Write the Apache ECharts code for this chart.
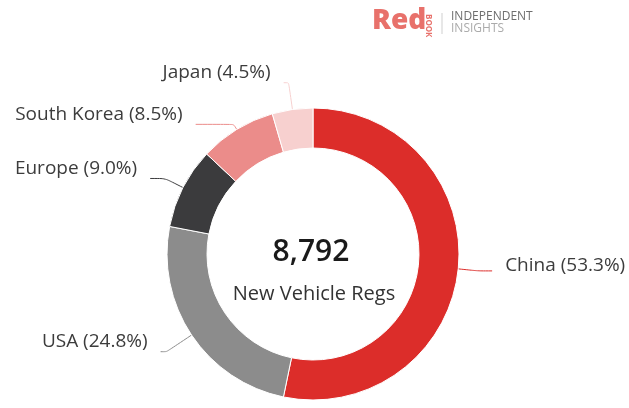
<!DOCTYPE html>
<html>
<head>
<meta charset="utf-8">
<script src="https://cdn.jsdelivr.net/npm/echarts@6/dist/echarts.min.js"></script>
<style>
  html, body { margin: 0; padding: 0; background: #fff; }
  #chart { width: 629px; height: 408px; }
</style>
</head>
<body>
<div id="chart"></div>
<script>
// share of new vehicle registrations, %
const regions = ['China', 'USA', 'Europe', 'South Korea', 'Japan']
const shares = [53.3, 24.8, 9.0, 8.5, 4.5]
const totalRegs = '8,792'
const totalLabel = 'New Vehicle Regs'

const colors = ['#dc2d2a', '#8c8c8c', '#3b3b3d', '#eb8c8a', '#f7d0cf']
// leader line lengths per slice [radial, horizontal], and how far the text sits above the line end
const lineLens = [[20, 14], [30, 6], [20, 15], [6, 38], [27, 5]]
const labelLift = [10, 20, 20, 20, 20]
const font = '"Open Sans", "Noto Sans", sans-serif'

const chart = echarts.init(document.getElementById('chart'))

chart.setOption({
  animation: false,
  color: colors,
  title: [
    {
      text: totalRegs,
      left: 306,
      top: 232,
      textAlign: 'center',
      textStyle: { fontFamily: font, fontSize: 30, fontWeight: 600, color: '#1a1a1a' }
    },
    {
      text: totalLabel,
      left: 309,
      top: 279,
      textAlign: 'center',
      textStyle: { fontFamily: font, fontSize: 20, fontWeight: 'normal', color: '#333' }
    }
  ],
  graphic: [
    {
      type: 'text',
      left: 372,
      top: 7,
      style: { text: 'Red', font: '900 28px ' + font, fill: '#e8716b' }
    },
    {
      type: 'text',
      x: 424,
      y: 14,
      rotation: -Math.PI / 2,
      style: { text: 'BOOK', font: 'bold 8px ' + font, fill: '#e8716b', align: 'left', verticalAlign: 'bottom' }
    },
    {
      type: 'line',
      shape: { x1: 442, y1: 13, x2: 442, y2: 34 },
      style: { stroke: '#cfcfcf', lineWidth: 1 }
    },
    {
      type: 'text',
      left: 451,
      top: 11,
      style: { text: 'INDEPENDENT', font: '12px ' + font, fill: '#6e6e6e' }
    },
    {
      type: 'text',
      left: 451,
      top: 23,
      style: { text: 'INSIGHTS', font: '12px ' + font, fill: '#ababab' }
    }
  ],
  series: [
    {
      type: 'pie',
      center: [313, 254],
      radius: [106, 146],
      startAngle: 90,
      clockwise: true,
      avoidLabelOverlap: false,
      itemStyle: { borderColor: '#fff', borderWidth: 1 },
      label: {
        show: true,
        // empty second line lifts the text above the leader line end
        formatter: p => `{t|${p.name} (${p.value.toFixed(1)}%)}\n{gap|}`,
        distanceToLabelLine: 13,
        rich: {
          t: { fontFamily: font, fontSize: 19, color: '#3c3c3c', lineHeight: 22 },
          gap: { fontSize: 1, lineHeight: 20 }
        }
      },
      labelLine: {
        show: true,
        smooth: 0.2,
        lineStyle: { width: 1 }
      },
      data: regions.map((name, i) => ({
        name,
        value: shares[i],
        label: { rich: { gap: { fontSize: 1, lineHeight: labelLift[i] } } },
        labelLine: { length: lineLens[i][0], length2: lineLens[i][1] }
      }))
    }
  ]
})
</script>
</body>
</html>
